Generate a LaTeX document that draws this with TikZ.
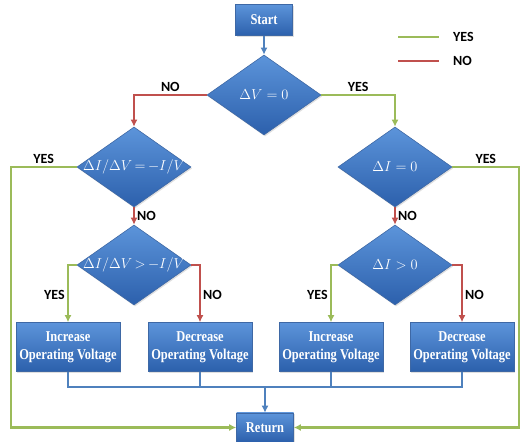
\documentclass[tikz,border=0pt]{standalone}
\usepackage{fontspec}
\setmainfont{Liberation Serif}
\newfontfamily\tagfont{Carlito}
\newfontfamily\boxfont[FakeStretch=0.83]{Liberation Serif}
\usetikzlibrary{arrows.meta,shapes.geometric,shadows}
\definecolor{boxtop}{RGB}{92,148,218}
\definecolor{boxbot}{RGB}{44,96,172}
\definecolor{boxline}{RGB}{62,104,165}
\definecolor{yesgreen}{RGB}{155,187,89}
\definecolor{nored}{RGB}{192,80,77}
\definecolor{flowblue}{RGB}{79,129,189}

\begin{document}
\begin{tikzpicture}[x=1pt,y=1pt,
  block/.style={rectangle,draw=boxline,line width=0.6pt,top color=boxtop,bottom color=boxbot,
    text=white,align=center,inner sep=0pt,font=\boxfont\fontsize{15}{18}\selectfont\bfseries,
    minimum width=104pt,minimum height=49pt,drop shadow={opacity=0.25,shadow xshift=1pt,shadow yshift=-1.5pt}},
  decision/.style={diamond,draw=boxline,line width=0.6pt,top color=boxtop,bottom color=boxbot,
    inner sep=0pt,minimum width=114pt,minimum height=80pt,drop shadow={opacity=0.25,shadow xshift=1pt,shadow yshift=-1.5pt}},
  cond/.style={text=white,font=\fontsize{15}{17}\selectfont},
  tag/.style={font=\tagfont\fontsize{14}{16}\selectfont\bfseries,inner sep=2pt},
  yes/.style={draw=yesgreen,line width=2.4pt,-{Latex[length=7pt,width=7pt]}},
  no/.style={draw=nored,line width=2.4pt,-{Latex[length=7pt,width=7pt]}},
  link/.style={draw=flowblue,line width=2.4pt},
  flow/.style={link,-{Latex[length=7pt,width=7pt]}}]
\useasboundingbox (0,0) rectangle (520,442);

\node[block,minimum width=57pt,minimum height=31pt] (start) at (264,422) {Start};
\node[decision,label={[cond]center:$\Delta V = 0$}] (d1) at (264,347) {};
\node[decision,label={[cond]center:$\Delta I/\Delta V\,{=}\,{-}I/V$}] (d2) at (134,275) {};
\node[decision,label={[cond]center:$\Delta I = 0$}] (d3) at (395,275) {};
\node[decision,label={[cond]center:$\Delta I/\Delta V\,{>}\,{-}I/V$}] (d4) at (134,177) {};
\node[decision,label={[cond]center:$\Delta I > 0$}] (d5) at (395,177) {};

\node[block] (inc1) at (68,95) {Increase\\Operating Voltage};
\node[block] (dec1) at (200,95) {Decrease\\Operating Voltage};
\node[block] (inc2) at (331,95) {Increase\\Operating Voltage};
\node[block] (dec2) at (462,95) {Decrease\\Operating Voltage};
\node[block,minimum width=57pt,minimum height=29pt] (ret) at (265,14.5) {Return};

\draw[flow] (start) -- (d1);
\draw[no] (d1.west) -| (d2.north) node[tag,above,pos=0.25] {NO};
\draw[yes] (d1.east) -| (d3.north) node[tag,above,pos=0.25] {YES};

\draw[yes] (d2.west) -- ++(-66,0) node[tag,above,midway] {YES} |- (ret.west);
\draw[no] (d2) -- (d4) node[tag,right,midway] {NO};
\draw[yes] (d4.west) -| (inc1.north) node[tag,left,pos=0.76] {YES};
\draw[no] (d4.east) -| (dec1.north) node[tag,right,pos=0.76] {NO};

\draw[yes] (d3.east) -- ++(67,0) node[tag,above,midway] {YES} |- (ret.east);
\draw[no] (d3) -- (d5) node[tag,right,midway] {NO};
\draw[yes] (d5.west) -| (inc2.north) node[tag,left,pos=0.76] {YES};
\draw[no] (d5.east) -| (dec2.north) node[tag,right,pos=0.76] {NO};

\coordinate (join) at (265,55);
\draw[link] (inc1.south) |- (dec2.south |- join) -- (dec2.south);
\draw[link] (dec1.south) -- (dec1.south |- join);
\draw[link] (inc2.south) -- (inc2.south |- join);
\draw[flow] (join) -- (ret);

\coordinate (ly1) at (398,405);
\coordinate (ly2) at (439,405);
\coordinate (ln1) at (398,381);
\coordinate (ln2) at (439,381);
\draw[draw=yesgreen,line width=2.4pt] (ly1) -- (ly2);
\draw[draw=nored,line width=2.4pt] (ln1) -- (ln2);
\node[tag,anchor=west] (lyes) at (451,405) {YES};
\node[tag,anchor=west] (lno) at (451,381) {NO};
\end{tikzpicture}
\end{document}
